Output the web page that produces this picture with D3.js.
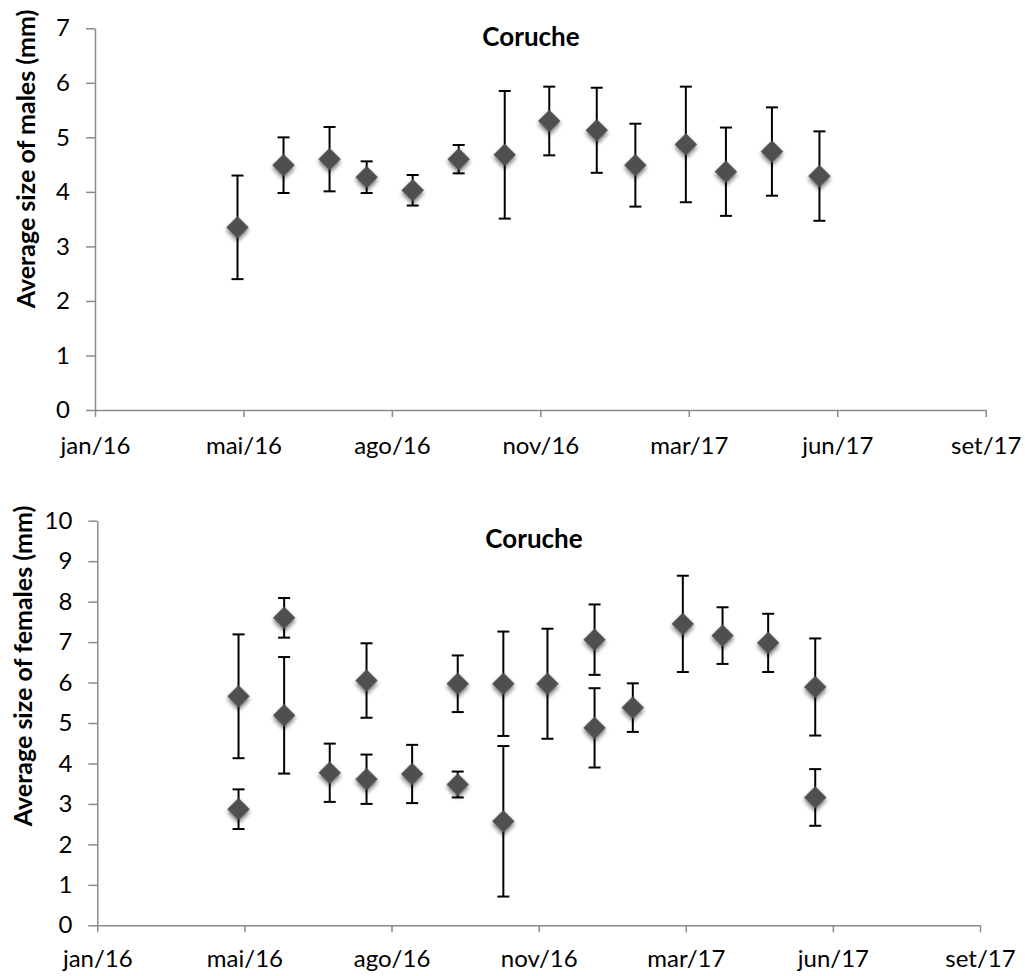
<!DOCTYPE html>
<html>
<head>
<meta charset="utf-8">
<script src="https://cdn.jsdelivr.net/npm/d3@7"></script>
<style>
  html, body { margin: 0; padding: 0; background: #fff; }
  svg { display: block; font-family: Lato, "Open Sans", sans-serif; }
</style>
</head>
<body>
<svg id="chart" width="1025" height="976"></svg>
<script>
// ---------- data ----------
const sampleDates = ["2016-05-04","2016-06-04","2016-07-05","2016-07-30","2016-08-30","2016-09-30","2016-10-31",
                     "2016-11-30","2017-01-01","2017-01-27","2017-03-02","2017-03-29","2017-04-29","2017-05-31"];

const maleMean = [3.35, 4.49, 4.60, 4.27, 4.03, 4.60, 4.68, 5.30, 5.13, 4.49, 4.87, 4.37, 4.74, 4.29];
const maleErr  = [0.95, 0.51, 0.59, 0.29, 0.28, 0.26, 1.17, 0.63, 0.78, 0.76, 1.06, 0.81, 0.81, 0.82];

// females: two groups per sampling date (null = no group)
const femaleAMean = [5.66, 7.60, null, 6.05, null, 5.97, 5.97, 5.97, 7.06, 5.38, 7.45, 7.16, 6.98, 5.89];
const femaleAErr  = [1.53, 0.49, null, 0.92, null, 0.70, 1.29, 1.36, 0.87, 0.60, 1.19, 0.70, 0.72, 1.20];
const femaleBMean = [2.87, 5.19, 3.77, 3.61, 3.74, 3.48, 2.57, null, 4.88, null, null, null, null, 3.16];
const femaleBErr  = [0.49, 1.44, 0.72, 0.61, 0.72, 0.32, 1.86, null, 0.98, null, null, null, null, 0.70];

const axisStart = "2016-01-29";   // date axis minimum
const axisStepDays = 100;         // major unit (days)
const xTickLabels = ["jan/16","mai/16","ago/16","nov/16","mar/17","jun/17","set/17"];
const maleYTicks = [0,1,2,3,4,5,6,7];
const femaleYTicks = [0,1,2,3,4,5,6,7,8,9,10];
const chartTitle = "Coruche";
const maleYTitle = "Average size of males (mm)";
const femaleYTitle = "Average size of females (mm)";

// ---------- helpers ----------
const parse = d3.utcParse("%Y-%m-%d");
const start = parse(axisStart);
const tickDates = xTickLabels.map((_, i) => d3.utcDay.offset(start, i * axisStepDays));
const dates = sampleDates.map(parse);

const svg = d3.select("#chart");
const defs = svg.append("defs");
const f = defs.append("filter").attr("id", "shadow").attr("x", "-50%").attr("y", "-50%").attr("width", "200%").attr("height", "200%");
f.append("feGaussianBlur").attr("in", "SourceAlpha").attr("stdDeviation", 2).attr("result", "b");
f.append("feOffset").attr("in", "b").attr("dx", 1.5).attr("dy", 2).attr("result", "o");
f.append("feComponentTransfer").attr("in", "o").attr("result", "o2")
  .append("feFuncA").attr("type", "linear").attr("slope", 0.55);
f.append("feGaussianBlur").attr("in", "SourceGraphic").attr("stdDeviation", 0.7).attr("result", "soft");
const fm = f.append("feMerge");
fm.append("feMergeNode").attr("in", "o2");
fm.append("feMergeNode").attr("in", "soft");

const AXIS = "#8a8a8a";
const diamond = d3.symbol().type(d3.symbolSquare).size(250);

function drawPanel(cfg) {
  const g = svg.append("g");
  const x = d3.scaleUtc().domain([tickDates[0], tickDates[tickDates.length - 1]]).range([cfg.left, cfg.right]);
  const y = d3.scaleLinear().domain([0, d3.max(cfg.yTicks)]).range([cfg.bottom, cfg.top]);

  // y axis
  const ya = g.append("g").attr("transform", `translate(${cfg.left},0)`)
    .call(d3.axisLeft(y).tickValues(cfg.yTicks).tickSize(9).tickSizeOuter(0).tickPadding(16).tickFormat(d3.format("d")));
  ya.selectAll("path,line").attr("stroke", AXIS).attr("stroke-width", 1.5);
  ya.selectAll("text").attr("fill", "#000").style("font-size", "24px").style("font-family", "Lato");

  // x axis
  const xa = g.append("g").attr("transform", `translate(0,${cfg.bottom})`)
    .call(d3.axisBottom(x).tickValues(tickDates).tickSize(7).tickSizeOuter(0)
      .tickFormat((d, i) => xTickLabels[i]));
  xa.selectAll("path,line").attr("stroke", AXIS).attr("stroke-width", 1.5);
  xa.selectAll("text").attr("fill", "#000").attr("dy", null).attr("y", cfg.xLabelOffset)
    .style("font-size", "24px").style("font-family", "Lato");

  // title
  g.append("text").attr("x", cfg.titleX).attr("y", cfg.titleY).attr("text-anchor", "middle")
    .style("font-size", "26px").style("font-weight", "bold").text(chartTitle);

  // y title
  g.append("text").attr("transform", `translate(${cfg.yTitleX},${cfg.yTitleY}) rotate(-90)`)
    .attr("text-anchor", "middle").style("font-size", "25px").style("font-weight", "bold").text(cfg.yTitle);

  // points
  cfg.series.forEach(s => {
    const pts = dates.map((d, i) => ({ d, m: s.mean[i], e: s.err[i] })).filter(p => p.m != null);
    const eb = g.append("g").attr("stroke", "#000").attr("stroke-width", 2);
    pts.forEach(p => {
      const cx = x(p.d);
      eb.append("line").attr("x1", cx).attr("x2", cx).attr("y1", y(p.m + p.e)).attr("y2", y(p.m - p.e));
      [p.m + p.e, p.m - p.e].forEach(v => {
        eb.append("line").attr("x1", cx - 6).attr("x2", cx + 6).attr("y1", y(v)).attr("y2", y(v));
      });
    });
    g.append("g").selectAll("path").data(pts).join("path")
      .attr("d", diamond)
      .attr("transform", p => `translate(${x(p.d)},${y(p.m)}) rotate(45)`)
      .attr("fill", "#505050")
      .attr("filter", "url(#shadow)");
  });
}

drawPanel({
  left: 95, right: 985.7, top: 28.3, bottom: 410,
  yTicks: maleYTicks, xLabelOffset: 44,
  titleX: 531, titleY: 46, yTitleX: 35, yTitleY: 159, yTitle: maleYTitle,
  series: [{ mean: maleMean, err: maleErr }]
});

drawPanel({
  left: 97.3, right: 980, top: 520.7, bottom: 925.3,
  yTicks: femaleYTicks, xLabelOffset: 42,
  titleX: 534, titleY: 548, yTitleX: 32, yTitleY: 666, yTitle: femaleYTitle,
  series: [{ mean: femaleAMean, err: femaleAErr }, { mean: femaleBMean, err: femaleBErr }]
});
</script>
</body>
</html>
